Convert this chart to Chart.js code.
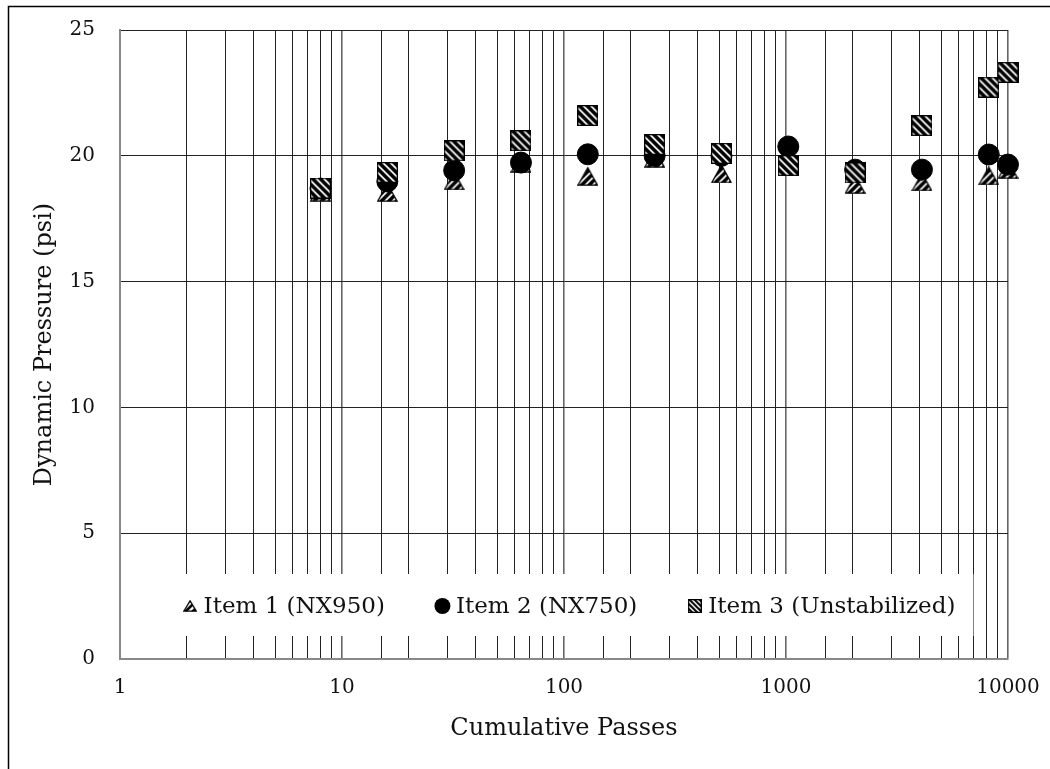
<!DOCTYPE html>
<html lang="en">
<head>
<meta charset="UTF-8">
<title>Dynamic Pressure vs Cumulative Passes</title>
<script src="https://cdn.jsdelivr.net/npm/chart.js"></script>
<style>
    html, body { margin: 0; padding: 0; background: #fff; }
    #wrap { width: 1050px; height: 769px; position: relative; }
</style>
</head>
<body>
<div id="wrap"><canvas id="pressureChart"></canvas></div>
<script>
// pass counts where readings were taken
const passes = [8, 16, 32, 64, 128, 256, 512, 1024, 2048, 4096, 8192, 10000];

// dynamic pressure readings (psi)
const item1 = [18.56, 18.54, 19.0, 19.7, 19.18, 19.9, 19.28, 19.6, 18.86, 18.96, 19.2, 19.45];
const item2 = [18.7, 18.98, 19.42, 19.73, 20.06, 20.0, 20.0, 20.37, 19.45, 19.45, 20.05, 19.65];
const item3 = [18.72, 19.34, 20.2, 20.6, 21.6, 20.45, 20.1, 19.61, 19.32, 21.2, 22.73, 23.32];

const seriesNames = ['Item 1 (NX950)', 'Item 2 (NX750)', 'Item 3 (Unstabilized)'];
const yTicks = [0, 5, 10, 15, 20, 25];

const FONT = "'DejaVu Serif', 'Liberation Serif', serif";

// hatched marker canvases
function hatchSquare(s, gap, lw) {
    const c = document.createElement('canvas');
    c.width = s; c.height = s;
    const g = c.getContext('2d');
    g.fillStyle = '#fff';
    g.fillRect(0, 0, s, s);
    g.save();
    g.beginPath(); g.rect(0, 0, s, s); g.clip();
    g.strokeStyle = '#000'; g.lineWidth = lw;
    for (let k = -s; k < 2 * s; k += gap) {
        g.beginPath(); g.moveTo(k, 0); g.lineTo(k + s, s); g.stroke();
    }
    g.restore();
    g.strokeStyle = '#000'; g.lineWidth = 1.3;
    g.strokeRect(0.65, 0.65, s - 1.3, s - 1.3);
    return c;
}

function hatchTriangle(w, h, gap, lw) {
    const c = document.createElement('canvas');
    c.width = w; c.height = h;
    const g = c.getContext('2d');
    const path = () => {
        g.beginPath();
        g.moveTo(w / 2, 0.8);
        g.lineTo(w - 0.8, h - 0.8);
        g.lineTo(0.8, h - 0.8);
        g.closePath();
    };
    path();
    g.fillStyle = '#fff'; g.fill();
    g.save();
    path(); g.clip();
    g.strokeStyle = '#000'; g.lineWidth = lw;
    for (let k = -h; k < w + h; k += gap) {
        g.beginPath(); g.moveTo(k, h); g.lineTo(k + h, 0); g.stroke();
    }
    g.restore();
    path();
    g.strokeStyle = '#000'; g.lineWidth = 1.3; g.stroke();
    return c;
}

const triMark = hatchTriangle(21, 19, 7.5, 3.5);
const sqMark = hatchSquare(21, 7.5, 3.5);
const triLegend = hatchTriangle(14, 12, 7, 2.6);
const sqLegend = hatchSquare(14, 5, 2);

const isDecade = v => Math.abs(Math.log10(v) - Math.round(Math.log10(v))) < 1e-9;

// white frame with a thin border round the whole figure
const framePlugin = {
    id: 'frame',
    beforeDraw(chart) {
        const g = chart.ctx;
        g.save();
        g.fillStyle = '#fff';
        g.fillRect(0, 0, chart.width, chart.height);
        g.strokeStyle = '#000';
        g.lineWidth = 1.5;
        g.strokeRect(8.5, 6.5, chart.width + 20, chart.height + 20);
        g.restore();
    }
};

// legend inside the plot, on a white box over the grid
const insideLegend = {
    id: 'insideLegend',
    beforeDatasetsDraw(chart) {
        const g = chart.ctx;
        g.save();
        g.font = '23px ' + FONT;
        const markW = 15, markGap = 6, itemGap = 50;
        const widths = seriesNames.map(n => markW + markGap + g.measureText(n).width);
        const total = widths.reduce((a, b) => a + b, 0) + itemGap * (widths.length - 1);
        const cx = 569, cy = 606;
        let x = cx - total / 2;
        g.fillStyle = '#fff';
        g.fillRect(x - 18, 574, total + 36, 62);
        g.textBaseline = 'middle';
        g.textAlign = 'left';
        seriesNames.forEach((name, i) => {
            const mx = x + markW / 2;
            if (i === 0) {
                g.drawImage(triLegend, mx - 7, cy - 6);
            } else if (i === 1) {
                g.beginPath(); g.arc(mx, cy, 8, 0, Math.PI * 2);
                g.fillStyle = '#000'; g.fill();
            } else {
                g.drawImage(sqLegend, mx - 7, cy - 7);
            }
            g.fillStyle = '#111';
            g.fillText(name, x + markW + markGap, cy + 1);
            x += widths[i] + itemGap;
        });
        g.restore();
    }
};

const toPoints = vals => passes.map((p, i) => ({ x: p, y: vals[i] }));

new Chart(document.getElementById('pressureChart'), {
    type: 'scatter',
    data: {
        datasets: [
            { label: seriesNames[0], data: toPoints(item1), pointStyle: triMark, order: 3, clip: false },
            { label: seriesNames[1], data: toPoints(item2), pointStyle: 'circle', pointRadius: 10.5,
              backgroundColor: '#000', borderColor: '#000', order: 2, clip: false },
            { label: seriesNames[2], data: toPoints(item3), pointStyle: sqMark, order: 1, clip: false }
        ]
    },
    options: {
        responsive: true,
        maintainAspectRatio: false,
        animation: false,
        events: [],
        layout: { autoPadding: false, padding: { left: 8, top: 30, right: 42, bottom: 0 } },
        plugins: {
            legend: { display: false },
            tooltip: { enabled: false }
        },
        scales: {
            x: {
                type: 'logarithmic',
                min: 1,
                max: 10000,
                // fixed axis height; end labels may overhang the plot edges
                afterFit: s => { s.height = 110; s.paddingLeft = 0; s.paddingRight = 0; },
                grid: {
                    drawTicks: false,
                    color: ctx => ctx.tick && isDecade(ctx.tick.value) ? '#666' : '#222',
                    lineWidth: ctx => ctx.tick && isDecade(ctx.tick.value) ? 1.6 : 1
                },
                border: { color: '#888', width: 2 },
                ticks: {
                    autoSkip: false,
                    maxRotation: 0,
                    padding: 17,
                    color: '#111',
                    font: { family: FONT, size: 20 },
                    callback: v => isDecade(v) ? String(Math.round(v)) : ''
                },
                title: {
                    display: true,
                    text: 'Cumulative Passes',
                    color: '#111',
                    font: { family: FONT, size: 24 },
                    padding: { top: 0, bottom: 26 }
                }
            },
            y: {
                min: 0,
                max: 25,
                afterFit: s => { s.width = 112; s.paddingTop = 0; s.paddingBottom = 0; },
                afterBuildTicks: s => { s.ticks = yTicks.map(v => ({ value: v })); },
                grid: { drawTicks: false, color: '#222', lineWidth: 1 },
                border: { color: '#888', width: 2 },
                ticks: {
                    padding: 25,
                    color: '#111',
                    font: { family: FONT, size: 20 }
                },
                title: {
                    display: true,
                    text: 'Dynamic Pressure (psi)',
                    color: '#111',
                    font: { family: FONT, size: 24 },
                    padding: { top: 22, bottom: 0 }
                }
            }
        }
    },
    plugins: [framePlugin, insideLegend]
});
</script>
</body>
</html>
